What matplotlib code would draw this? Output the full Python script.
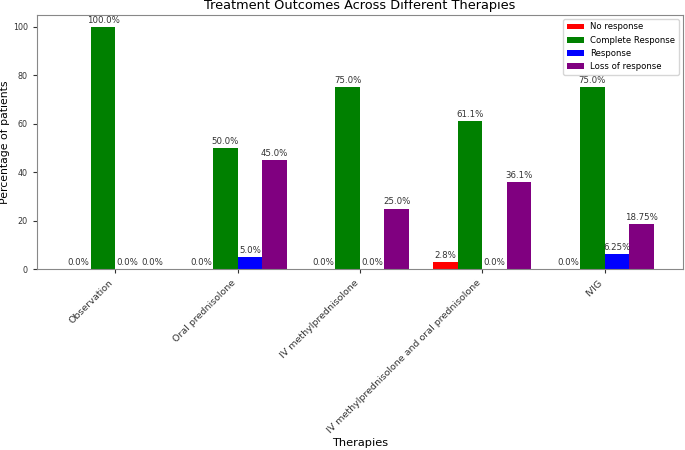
import matplotlib
matplotlib.use("Agg")
import matplotlib.pyplot as plt
import numpy as np

therapies = ["Observation", "Oral prednisolone", "IV methylprednisolone",
             "IV methylprednisolone and oral prednisolone", "IVIG"]
series_names = ["No response", "Complete Response", "Response", "Loss of response"]
no_response = [0.0, 0.0, 0.0, 2.8, 0.0]
complete_response = [100.0, 50.0, 75.0, 61.1, 75.0]
response = [0.0, 5.0, 0.0, 0.0, 6.25]
loss_of_response = [0.0, 45.0, 25.0, 36.1, 18.75]
colors = ["red", "green", "blue", "purple"]

fig = plt.figure(figsize=(6.85, 4.5), dpi=100)
ax = fig.add_axes([0.054, 0.402, 0.943, 0.565])

x = np.arange(len(therapies))
w = 0.2
all_series = [no_response, complete_response, response, loss_of_response]
for i, (name, vals, c) in enumerate(zip(series_names, all_series, colors)):
    bars = ax.bar(x + (i - 1.5) * w, vals, w, label=name, color=c)
    for b, v in zip(bars, vals):
        ax.annotate(f"{v}%", (b.get_x() + b.get_width() / 2, b.get_height()),
                    xytext=(0, 1.5), textcoords="offset points",
                    ha="center", va="bottom", fontsize=6.2, color="#333333")

ax.set_xticks(x)
ax.set_xticklabels(therapies, rotation=45, ha="right", fontsize=6.8)
ax.tick_params(axis="y", labelsize=5.8)
ax.tick_params(colors="#333333", length=3)
ax.set_ylabel("Percentage of patients", fontsize=7.8, labelpad=2)
ax.set_xlabel("Therapies", fontsize=8.2, labelpad=2)
ax.set_title("Treatment Outcomes Across Different Therapies", fontsize=9.3, pad=4)
for s in ax.spines.values():
    s.set_color("#888888")
ax.legend(loc="upper right", fontsize=6.1)

fig.savefig("out.png", dpi=100)
